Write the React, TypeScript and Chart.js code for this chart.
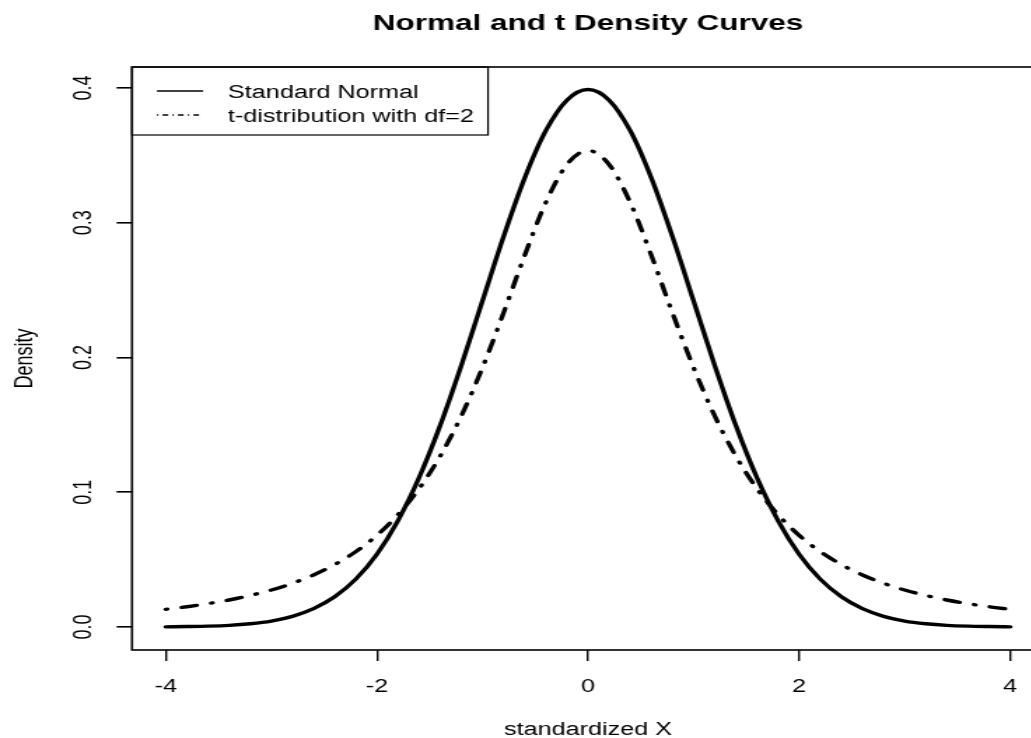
import React, { useEffect, useRef } from "react";
import { Chart, registerables } from "chart.js";

Chart.register(...registerables);

// ---------- data ----------
const xValues = [
  -4, -3.8, -3.6, -3.4, -3.2, -3, -2.8, -2.6, -2.4, -2.2, -2, -1.8, -1.6, -1.4, -1.2, -1, -0.8, -0.6, -0.4, -0.2,
  0, 0.2, 0.4, 0.6, 0.8, 1, 1.2, 1.4, 1.6, 1.8, 2, 2.2, 2.4, 2.6, 2.8, 3, 3.2, 3.4, 3.6, 3.8, 4,
];
const normalDensity = [
  0.0001, 0.0003, 0.0006, 0.0012, 0.0024, 0.0044, 0.0079, 0.0136, 0.0224, 0.0355, 0.054, 0.079, 0.1109, 0.1497,
  0.1942, 0.242, 0.2897, 0.3332, 0.3683, 0.391, 0.3989, 0.391, 0.3683, 0.3332, 0.2897, 0.242, 0.1942, 0.1497,
  0.1109, 0.079, 0.054, 0.0355, 0.0224, 0.0136, 0.0079, 0.0044, 0.0024, 0.0012, 0.0006, 0.0003, 0.0001,
];
const tDensity = [
  0.0131, 0.015, 0.0173, 0.02, 0.0234, 0.0274, 0.0324, 0.0386, 0.0463, 0.0559, 0.068, 0.0834, 0.1027, 0.1269,
  0.1567, 0.1925, 0.2331, 0.2758, 0.315, 0.3432, 0.3536, 0.3432, 0.315, 0.2758, 0.2331, 0.1925, 0.1567, 0.1269,
  0.1027, 0.0834, 0.068, 0.0559, 0.0463, 0.0386, 0.0324, 0.0274, 0.0234, 0.02, 0.0173, 0.015, 0.0131,
];
const xTickValues = [-4, -2, 0, 2, 4];
const xTickLabels = ["-4", "-2", "0", "2", "4"];
const yTickValues = [0, 0.1, 0.2, 0.3, 0.4];
const yTickLabels = ["0.0", "0.1", "0.2", "0.3", "0.4"];
const legendLabels = ["Standard Normal", "t-distribution with df=2"];
const chartTitle = "Normal and t Density Curves";
const xTitle = "standardized X";
const yTitle = "Density";

// ---------- layout ----------
const SX = 1.4; // horizontal stretch of the reference image
const CW = 760;
const CH = 738;
const BOX_LEFT = 132 / SX;
const BOX_RIGHT = 1044 / SX;
const FONT = "'Liberation Sans', Arial, Helvetica, sans-serif";

const decor = {
  id: "decor",
  afterDraw(chart: any) {
    const { ctx, chartArea: a, scales } = chart;
    const xs = scales.x;
    const ys = scales.y;
    const cx = (a.left + a.right) / 2;
    const cy = (a.top + a.bottom) / 2;
    ctx.save();
    ctx.fillStyle = "#000";
    ctx.strokeStyle = "#000";

    // plot box
    ctx.lineWidth = 1.6;
    ctx.setLineDash([]);
    ctx.strokeRect(a.left, a.top, a.right - a.left, a.bottom - a.top);

    // title
    ctx.font = `bold 22.5px ${FONT}`;
    ctx.textAlign = "center";
    ctx.textBaseline = "alphabetic";
    ctx.fillText(chartTitle, cx, 30);

    // x tick labels
    ctx.font = `18px ${FONT}`;
    xTickValues.forEach((v, i) => {
      ctx.fillText(xTickLabels[i], xs.getPixelForValue(v), 692);
    });
    // x title
    ctx.fillText(xTitle, cx, 735);

    // y tick labels (rotated)
    yTickValues.forEach((v, i) => {
      ctx.save();
      ctx.translate(91 / SX, ys.getPixelForValue(v));
      ctx.rotate(-Math.PI / 2);
      ctx.fillText(yTickLabels[i], 0, 0);
      ctx.restore();
    });
    // y title
    ctx.save();
    ctx.translate(32 / SX, cy);
    ctx.rotate(-Math.PI / 2);
    ctx.fillText(yTitle, 0, 0);
    ctx.restore();

    // legend
    const lx = a.left;
    const ly = a.top;
    const lw = 488 / SX - lx;
    const lh = 135 - ly;
    ctx.lineWidth = 1.2;
    ctx.strokeRect(lx, ly, lw, lh);
    const rows = [91, 115];
    const sx1 = 157 / SX;
    const sx2 = 203 / SX;
    ctx.lineWidth = 1.3;
    ctx.lineCap = "butt";
    rows.forEach((ry, i) => {
      ctx.setLineDash(i === 0 ? [] : [1, 3, 4, 3]);
      ctx.beginPath();
      ctx.moveTo(sx1, ry);
      ctx.lineTo(sx2, ry);
      ctx.stroke();
    });
    ctx.setLineDash([]);
    ctx.textAlign = "left";
    rows.forEach((ry, i) => {
      ctx.fillText(legendLabels[i], 228 / SX, ry + 6.5);
    });
    ctx.restore();
  },
};

export default function App() {
  const ref = useRef<HTMLCanvasElement | null>(null);

  useEffect(() => {
    const canvas = ref.current;
    if (!canvas) return;
    const chart = new Chart(canvas, {
      type: "line",
      data: {
        datasets: [
          {
            label: legendLabels[0],
            data: xValues.map((x, i) => ({ x, y: normalDensity[i] })),
            borderColor: "#000",
            borderWidth: 3.4,
            pointRadius: 0,
            fill: false,
            cubicInterpolationMode: "monotone",
            borderJoinStyle: "round",
            borderCapStyle: "round",
          },
          {
            label: legendLabels[1],
            data: xValues.map((x, i) => ({ x, y: tDensity[i] })),
            borderColor: "#000",
            borderWidth: 3.4,
            pointRadius: 0,
            fill: false,
            cubicInterpolationMode: "monotone",
            borderJoinStyle: "round",
            borderCapStyle: "round",
            borderDash: [1, 10.5, 11, 10.5],
          },
        ],
      },
      options: {
        responsive: false,
        animation: false,
        devicePixelRatio: 1,
        events: [],
        layout: { padding: { top: 67, right: CW - BOX_RIGHT, left: 0, bottom: 0 } },
        plugins: {
          legend: { display: false },
          title: { display: false },
          tooltip: { enabled: false },
        },
        scales: {
          x: {
            type: "linear",
            min: -4.32,
            max: 4.32,
            afterBuildTicks: (s: any) => {
              s.ticks = xTickValues.map((v) => ({ value: v }));
            },
            afterFit: (s: any) => {
              s.height = 88;
            },
            ticks: { display: false },
            grid: { drawOnChartArea: false, drawTicks: true, tickLength: 11, color: "#000", lineWidth: 1.4 },
            border: { display: false },
          },
          y: {
            type: "linear",
            min: -0.0171,
            max: 0.4156,
            afterBuildTicks: (s: any) => {
              s.ticks = yTickValues.map((v) => ({ value: v }));
            },
            afterFit: (s: any) => {
              s.width = BOX_LEFT;
            },
            ticks: { display: false },
            grid: { drawOnChartArea: false, drawTicks: true, tickLength: 11, color: "#000", lineWidth: 1.6 },
            border: { display: false },
          },
        },
      },
      plugins: [decor],
    } as any);
    return () => chart.destroy();
  }, []);

  return (
    <div
      style={{
        position: "fixed",
        left: 0,
        top: 0,
        width: 1031,
        height: 738,
        overflow: "hidden",
        background: "#fff",
      }}
    >
      <canvas
        ref={ref}
        width={CW}
        height={CH}
        style={{
          width: CW,
          height: CH,
          display: "block",
          transform: `scaleX(${SX})`,
          transformOrigin: "0 0",
        }}
      />
    </div>
  );
}
